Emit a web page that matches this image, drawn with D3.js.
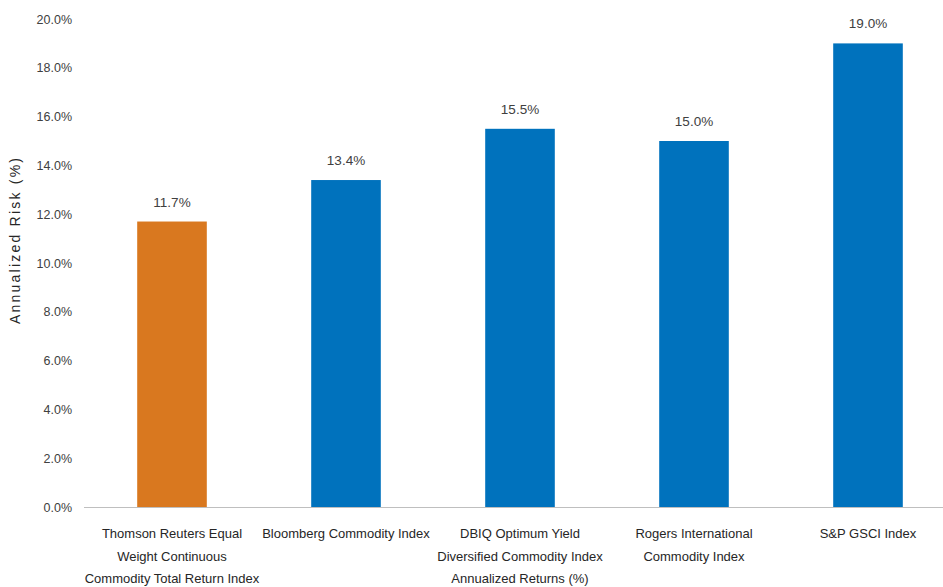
<!DOCTYPE html>
<html><head><meta charset="utf-8">
<script src="https://cdn.jsdelivr.net/npm/d3@7"></script>
<style>
body{margin:0;background:#fff;}
text{font-family:"Liberation Sans Narrow","Arial Narrow","Liberation Sans",Arial,sans-serif;}
</style></head>
<body><svg id="c" width="943" height="587"></svg>
<script>
const categories = [
  ["Thomson Reuters Equal","Weight Continuous","Commodity Total Return Index"],
  ["Bloomberg Commodity Index"],
  ["DBIQ Optimum Yield","Diversified Commodity Index","Annualized Returns (%)"],
  ["Rogers International","Commodity Index"],
  ["S&P GSCI Index"]
];
const values = [11.7, 13.4, 15.5, 15.0, 19.0];
const barColors = ["#D9781F","#0072BD","#0072BD","#0072BD","#0072BD"];
const yTicks = [0,2,4,6,8,10,12,14,16,18,20];

const svg = d3.select("#c");
const x = d3.scaleBand().domain(d3.range(values.length)).range([85,955]).paddingInner(0.6).paddingOuter(0.3);
const y = d3.scaleLinear().domain([0,20]).range([507,19]);

// y axis labels
const ya = svg.append("g").attr("transform","translate(72,0)")
  .call(d3.axisLeft(y).tickValues(yTicks).tickSize(0).tickPadding(0).tickFormat(d=>d.toFixed(1)+"%"));
ya.select(".domain").remove();
ya.selectAll("text").attr("font-size",12.5).attr("fill","#404040")
  .style("font-family",'"Liberation Sans Narrow","Arial Narrow",Arial,sans-serif');

// baseline
svg.append("line").attr("x1",84).attr("x2",943).attr("y1",y(0)+0.5).attr("y2",y(0)+0.5)
  .attr("stroke","#BFBFBF").attr("stroke-width",1);

// bars
svg.selectAll("rect.bar").data(values).join("rect").attr("class","bar")
  .attr("x",(d,i)=>x(i)).attr("width",x.bandwidth())
  .attr("y",d=>y(d)).attr("height",d=>y(0)-y(d))
  .attr("fill",(d,i)=>barColors[i]);

// value labels
svg.selectAll("text.val").data(values).join("text").attr("class","val")
  .attr("x",(d,i)=>x(i)+x.bandwidth()/2).attr("y",d=>y(d)-15)
  .attr("text-anchor","middle").attr("font-size",13.5).attr("fill","#404040")
  .text(d=>d.toFixed(1)+"%");

// category labels
categories.forEach((lines,i)=>{
  const t = svg.append("text").attr("text-anchor","middle").attr("font-size",13).attr("fill","#262626");
  lines.forEach((ln,j)=>{
    t.append("tspan").attr("x",x(i)+x.bandwidth()/2).attr("y",538+j*22.5).text(ln);
  });
});

// y title
svg.append("text").attr("transform","translate(20,241) rotate(-90)")
  .attr("text-anchor","middle").attr("font-size",14).attr("fill","#262626")
  .attr("textLength",166).attr("lengthAdjust","spacing")
  .style("font-family",'"Liberation Sans","Arial",sans-serif')
  .text("Annualized Risk (%)");
</script></body></html>
